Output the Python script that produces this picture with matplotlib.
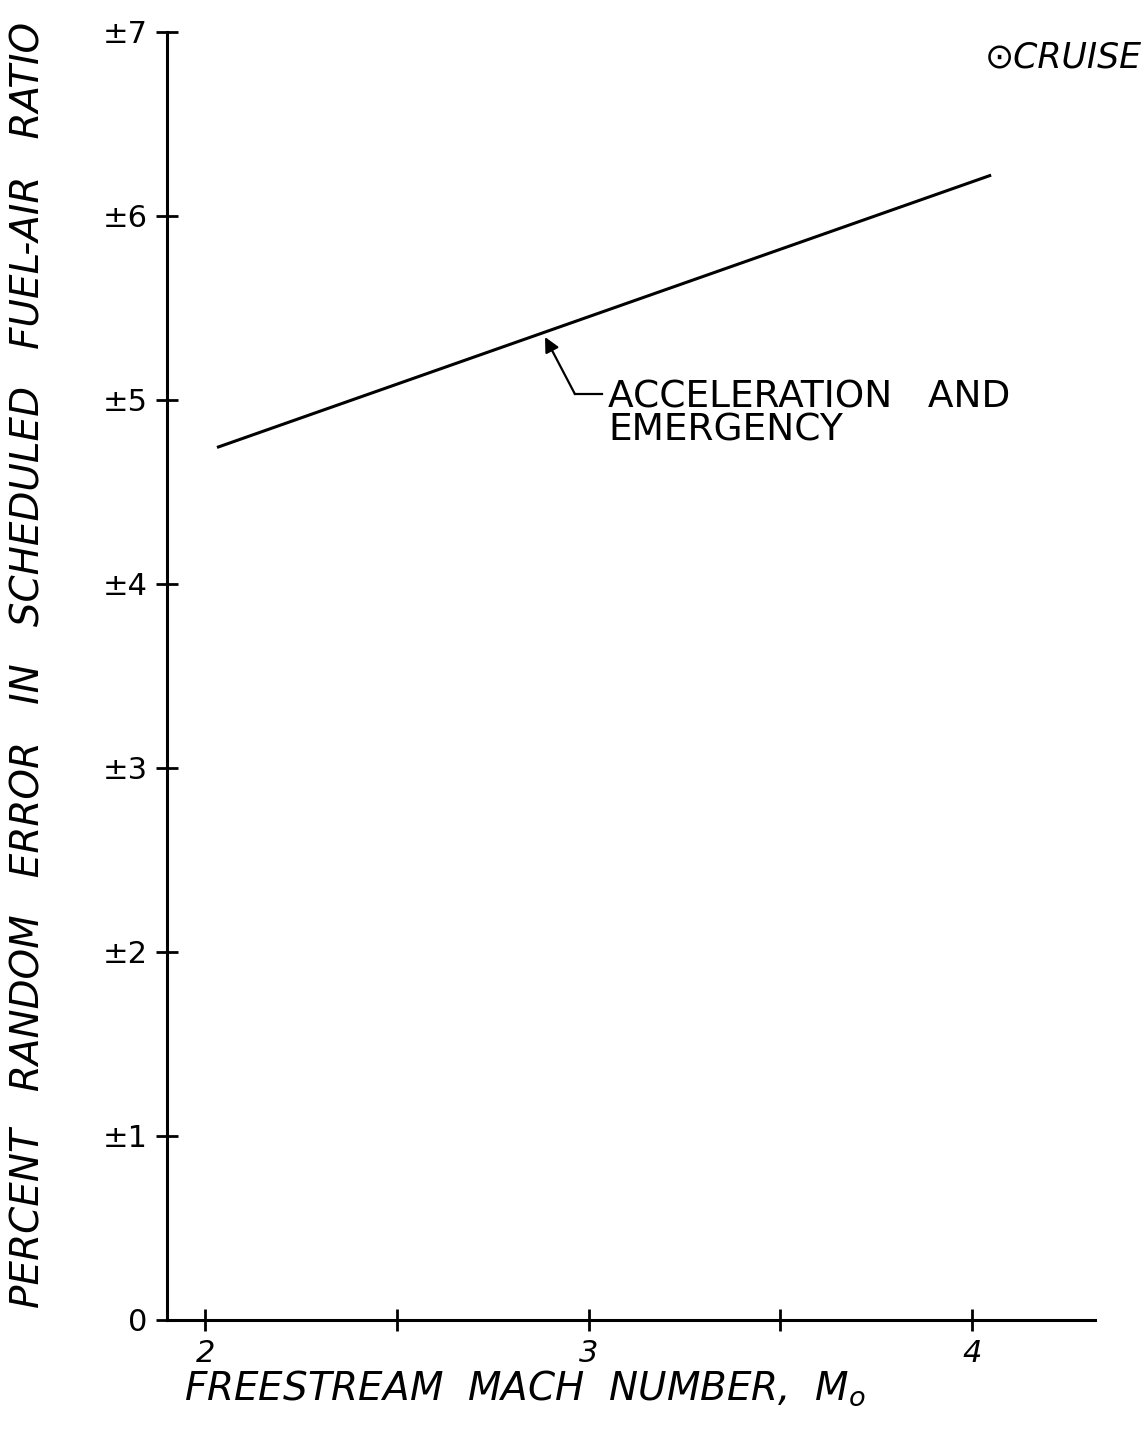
import matplotlib
matplotlib.use("Agg")
import matplotlib.pyplot as plt

# Random fuel-air ratio error vs. freestream Mach number
mach = [2.03, 4.05]
error_pct = [4.74, 6.22]

x_ticks = [2, 2.5, 3, 3.5, 4]
x_tick_labels = ["2", "", "3", "", "4"]
y_ticks = [0, 1, 2, 3, 4, 5, 6, 7]
y_tick_labels = ["0", "±1", "±2", "±3", "±4", "±5", "±6", "±7"]

curve_label = ["ACCELERATION   AND", "EMERGENCY"]

plt.rcParams["font.family"] = ["DejaVu Sans"]

fig = plt.figure(figsize=(11.45, 14.36), dpi=100)
ax = fig.add_axes([0.146, 0.081, 0.810, 0.897])

ax.plot(mach, error_pct, color="black", lw=2.2, solid_capstyle="butt")

ax.set_xlim(1.90, 4.32)
ax.set_ylim(0, 7)

for side in ("top", "right"):
    ax.spines[side].set_visible(False)
for side in ("left", "bottom"):
    ax.spines[side].set_linewidth(2.2)
    ax.spines[side].set_color("black")

ax.set_xticks(x_ticks)
ax.set_xticklabels(x_tick_labels, fontsize=22, fontstyle="oblique")
ax.set_yticks(y_ticks)
ax.set_yticklabels(y_tick_labels, fontsize=22)
ax.tick_params(axis="both", direction="inout", length=16, width=2, color="black")
ax.tick_params(axis="x", pad=6)
ax.tick_params(axis="y", pad=6)

ax.set_xlabel("FREESTREAM  MACH  NUMBER,  M$_\\mathregular{o}$", fontsize=28,
              fontstyle="oblique", labelpad=0, x=0.386)
ax.set_ylabel("PERCENT   RANDOM   ERROR   IN   SCHEDULED   FUEL-AIR   RATIO",
              fontsize=28, fontstyle="oblique", labelpad=40, y=0.508)

# Curve label with a bent leader ending in an arrow at the line
label_x, label_y1, label_y2 = 3.05, 5.01, 4.83
bend = (2.964, 5.03)
tip = (2.886, 5.34)
ax.plot([label_x - 0.015, bend[0]], [bend[1], bend[1]], color="black", lw=1.6)
ax.annotate("", xy=tip, xytext=bend,
            arrowprops=dict(arrowstyle="-|>", color="black", lw=1.6,
                            shrinkA=0, shrinkB=0, mutation_scale=22))
ax.text(label_x, label_y1, curve_label[0], fontsize=27, ha="left", va="center")
ax.text(label_x, label_y2, curve_label[1], fontsize=27, ha="left", va="center")

fig.text(0.997, 0.960, "⊙CRUISE", fontsize=25, fontstyle="oblique",
         ha="right", va="center")

fig.savefig("out.png", dpi=100, facecolor="white")
